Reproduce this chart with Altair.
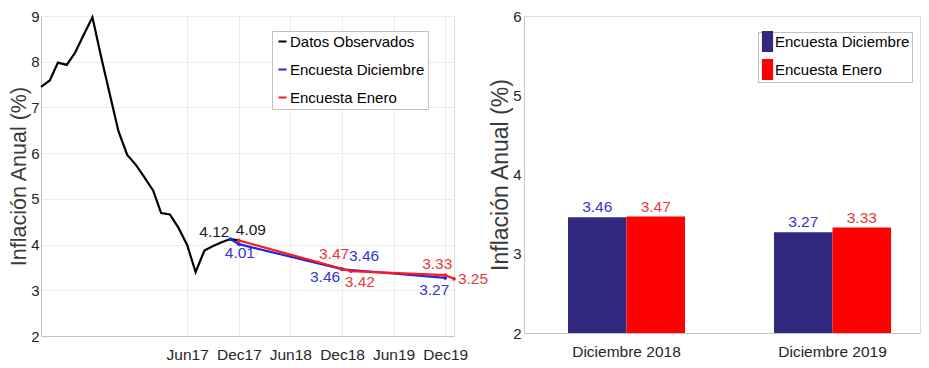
import altair as alt
import pandas as pd

FONT_N = "Liberation Sans, Arial, sans-serif"
FONT = "Liberation Sans, Arial, sans-serif"

# ---------------- data: left panel (monthly annual inflation) ----------------
obs_dates = ["2016/01/01", "2016/02/01", "2016/03/01", "2016/04/01", "2016/05/01", "2016/06/01",
             "2016/07/01", "2016/08/01", "2016/09/01", "2016/10/01", "2016/11/01", "2016/12/01",
             "2017/01/01", "2017/02/01", "2017/03/01", "2017/04/01", "2017/05/01", "2017/06/01",
             "2017/07/01", "2017/08/01", "2017/09/01", "2017/10/01", "2017/11/01", "2017/12/01"]
obs_values = [7.45, 7.59, 7.98, 7.93, 8.20, 8.60, 8.97, 8.10, 7.27, 6.48, 5.96, 5.75,
              5.47, 5.18, 4.69, 4.66, 4.37, 3.99, 3.40, 3.87, 3.97, 4.05, 4.12, 4.09]

dic_dates = ["2017/11/01", "2017/12/01", "2018/12/01", "2019/12/01"]
dic_values = [4.12, 4.01, 3.46, 3.27]

ene_dates = ["2017/12/01", "2018/12/01", "2019/01/01", "2019/12/01", "2020/01/01"]
ene_values = [4.09, 3.47, 3.42, 3.33, 3.25]

series_names = ["Datos Observados", "Encuesta Diciembre", "Encuesta Enero"]
series_colors = ["#000000", "#2424e0", "#ff1a1a"]

label_texts = ["4.12", "4.09", "4.01", "3.47", "3.46", "3.46", "3.42", "3.33", "3.27", "3.25"]
label_dates = ["2017/11/01", "2017/12/01", "2017/12/01", "2018/12/01", "2018/12/01",
               "2018/12/01", "2019/01/01", "2019/12/01", "2019/12/01", "2020/01/01"]
label_values = [4.12, 4.09, 4.01, 3.47, 3.46, 3.46, 3.42, 3.33, 3.27, 3.25]
label_series = ["Datos Observados", "Datos Observados", "Encuesta Diciembre", "Encuesta Enero",
                "Encuesta Diciembre", "Encuesta Diciembre", "Encuesta Enero", "Encuesta Enero",
                "Encuesta Diciembre", "Encuesta Enero"]

# ---------------- data: right panel (bars) ----------------
bar_categories = ["Diciembre 2018", "Diciembre 2019"]
bar_series = ["Encuesta Diciembre", "Encuesta Enero"]
bar_dic = [3.46, 3.27]
bar_ene = [3.47, 3.33]

# ---------------- build tables ----------------
lines_df = pd.DataFrame({
    "fecha": obs_dates + dic_dates + ene_dates,
    "valor": obs_values + dic_values + ene_values,
    "serie": [series_names[0]] * len(obs_dates) + [series_names[1]] * len(dic_dates)
             + [series_names[2]] * len(ene_dates),
})
labels_df = pd.DataFrame({"fecha": label_dates, "valor": label_values,
                          "texto": label_texts, "serie": label_series})

bars_df = pd.DataFrame({
    "cat": bar_categories * 2,
    "encuesta": [bar_series[0]] * 2 + [bar_series[1]] * 2,
    "valor": bar_dic + bar_ene,
})

LBL = 15.5

# ---------------- left panel ----------------
xscale = alt.Scale(domain=[alt.DateTime(year=2016, month=1, date=1),
                           alt.DateTime(year=2020, month=1, date=1)])
xaxis = alt.Axis(values=[alt.DateTime(year=y, month=m, date=1)
                         for y, m in [(2017, 6), (2017, 12), (2018, 6), (2018, 12), (2019, 6), (2019, 12)]],
                 format="%b%y", title=None, tickSize=0, labelPadding=11,
                 labelFont=FONT_N, labelFontSize=LBL, labelColor="#262626",
                 grid=True, gridColor="#ececec", domainColor="#c4c4c4")
yaxis_l = alt.Axis(values=[2, 3, 4, 5, 6, 7, 8, 9], title="Inflación Anual (%)",
                   titleFont=FONT, titleFontSize=21.5, titleFontWeight="normal", titleColor="#3a3a3a",
                   titlePadding=0, tickSize=0, labelPadding=2,
                   labelFont=FONT_N, labelFontSize=15, labelColor="#262626",
                   grid=True, gridColor="#ececec", domainColor="#c4c4c4")

color_l = alt.Color("serie:N",
                    scale=alt.Scale(domain=series_names, range=series_colors),
                    legend=alt.Legend(title=None, orient="none", legendX=231, legendY=15,
                                      symbolType="stroke", symbolSize=64, symbolStrokeWidth=2,
                                      labelFont=FONT_N, labelFontSize=15, labelColor="#000000",
                                      labelLimit=300, labelOffset=0, rowPadding=12,
                                      fillColor="#ffffff", strokeColor="#c0c0c0", padding=3))

base_l = alt.Chart(lines_df).encode(
    x=alt.X("fecha:T", scale=xscale, axis=xaxis),
    y=alt.Y("valor:Q", scale=alt.Scale(domain=[2, 9], nice=False, zero=False), axis=yaxis_l),
)
lines = base_l.mark_line(strokeWidth=2.2).encode(color=color_l, detail="serie:N")
points = base_l.transform_filter(alt.datum.serie != series_names[0]).mark_point(
    filled=True, size=14, opacity=1).encode(color=color_l)

label_offsets = [(-16, -7), (12, -10), (1, 9), (-8, -15), (22, -13),
                 (-17, 8), (9, 11), (-8, -11), (-11, 12), (19, 0)]
text_colors = {"Datos Observados": "#1a1a1a", "Encuesta Diciembre": "#3434d2", "Encuesta Enero": "#e43a3a"}
label_layers = []
for i, (dx, dy) in enumerate(label_offsets):
    label_layers.append(
        alt.Chart(labels_df.iloc[[i]]).mark_text(
            dx=dx, dy=dy, font=FONT_N, fontSize=LBL, baseline="middle", align="center",
            color=text_colors[label_series[i]]
        ).encode(x=alt.X("fecha:T"), y=alt.Y("valor:Q"), text="texto:N")
    )

left = alt.layer(lines, points, *label_layers).properties(width=413, height=320)

# ---------------- right panel ----------------
xscale_r = alt.Scale(domain=bar_categories, paddingInner=0.432, paddingOuter=0.177, align=0.603)
xaxis_r = alt.Axis(title=None, labelAngle=0, tickSize=0, labelPadding=11,
                   labelFont=FONT_N, labelFontSize=LBL, labelColor="#262626",
                   grid=False, domainColor="#c4c4c4")
yaxis_r = alt.Axis(values=[2, 3, 4, 5, 6], format="d", title="Inflación Anual (%)",
                   titleFont=FONT, titleFontSize=23, titleFontWeight="normal", titleColor="#3a3a3a",
                   titlePadding=0, tickSize=0, labelPadding=3,
                   labelFont=FONT_N, labelFontSize=15, labelColor="#262626",
                   grid=False, domainColor="#c4c4c4")
yscale_r = alt.Scale(domain=[2, 6], nice=False, zero=False)

base_r = alt.Chart(bars_df).encode(
    x=alt.X("cat:N", scale=xscale_r, sort=bar_categories, axis=xaxis_r),
    xOffset=alt.XOffset("encuesta:N", scale=alt.Scale(domain=bar_series), sort=bar_series),
)
bars = base_r.mark_bar().encode(
    y=alt.Y("valor:Q", scale=yscale_r, axis=yaxis_r),
    y2=alt.datum(2),
    color=alt.Color("encuesta:N",
                    scale=alt.Scale(domain=bar_series, range=["#31287f", "#ff0000"]),
                    legend=alt.Legend(title=None, orient="none", legendX=234, legendY=16,
                                      symbolType="M-0.8,-1.5L0.8,-1.5L0.8,1.5L-0.8,1.5Z",
                                      symbolSize=196, symbolStrokeWidth=0,
                                      labelFont=FONT_N, labelFontSize=15, labelColor="#000000",
                                      labelLimit=300, labelOffset=0, rowPadding=7,
                                      fillColor="#ffffff", strokeColor="#c0c0c0", padding=2)),
)
bar_text_dic = base_r.transform_filter(alt.datum.encuesta == bar_series[0]).mark_text(
    dy=-10, font=FONT_N, fontSize=LBL, baseline="middle", color="#3434d2"
).encode(y=alt.Y("valor:Q", scale=yscale_r), text=alt.Text("valor:Q", format=".2f"))
bar_text_ene = base_r.transform_filter(alt.datum.encuesta == bar_series[1]).mark_text(
    dy=-10, font=FONT_N, fontSize=LBL, baseline="middle", color="#e43a3a"
).encode(y=alt.Y("valor:Q", scale=yscale_r), text=alt.Text("valor:Q", format=".2f"))

right = alt.layer(bars, bar_text_dic, bar_text_ene).properties(width=396, height=317)

chart = alt.hconcat(left, right, spacing=70).resolve_scale(
    color="independent", x="independent", y="independent"
).resolve_legend(color="independent").properties(
    bounds="flush", padding={"left": 0, "top": 0, "right": 0, "bottom": 0}
).configure_view(stroke="#e0e0e0").configure(background="#ffffff")

chart.save("out.html", embed_options={"renderer": "svg", "actions": False})
